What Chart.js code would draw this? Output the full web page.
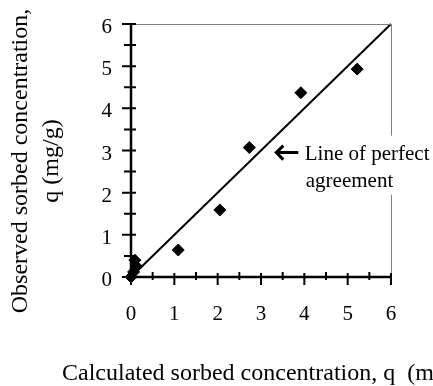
<!DOCTYPE html>
<html>
<head>
<meta charset="utf-8">
<script src="https://cdn.jsdelivr.net/npm/chart.js@4.4.0/dist/chart.umd.min.js"></script>
<style>
  html, body { margin: 0; padding: 0; background: #fff; }
  #wrap { width: 433px; height: 386px; }
</style>
</head>
<body>
<div id="wrap"><canvas id="c" width="433" height="386"></canvas></div>
<script>
// values
var calcQ = [0, 0.06, 0.13, 0.09, 1.09, 2.05, 2.73, 3.92, 5.22];
var obsQ  = [0, 0.12, 0.25, 0.40, 0.64, 1.59, 3.07, 4.37, 4.93];
var perfectX = [0, 6];
var perfectY = [0, 6];
var tickLabels = ["0", "1", "2", "3", "4", "5", "6"];

var xTitle = "Calculated sorbed concentration, q  (mg/g)";
var yTitle = ["Observed sorbed concentration,", "q (mg/g)"];
var noteLines = ["Line of perfect", "agreement"];

var SERIF = "'Liberation Serif', 'Times New Roman', serif";

var points = calcQ.map(function(x, i){ return {x: x, y: obsQ[i]}; });
var line = perfectX.map(function(x, i){ return {x: x, y: perfectY[i]}; });

var axesPlugin = {
	id: "oldaxes",
	afterDatasetsDraw: function(chart){
		var ctx = chart.ctx;
		var xs = chart.scales.x, ys = chart.scales.y;
		var a = chart.chartArea;
		ctx.save();

		// thin frame top and right
		ctx.strokeStyle = "#808080";
		ctx.lineWidth = 1;
		ctx.beginPath();
		ctx.moveTo(a.left, a.top + 0.5); ctx.lineTo(a.right, a.top + 0.5);
		ctx.moveTo(a.right + 0.5, a.top); ctx.lineTo(a.right + 0.5, a.bottom);
		ctx.stroke();

		// note box (white) over the frame
		var nx = xs.getPixelForValue(4.01), ny = ys.getPixelForValue(2.95);
		ctx.fillStyle = "#fff";
		ctx.fillRect(nx - 4, ny - 17, 140, 59);

		// thick axes
		ctx.strokeStyle = "#000";
		ctx.lineWidth = 2.5;
		ctx.beginPath();
		ctx.moveTo(a.left, a.top); ctx.lineTo(a.left, a.bottom);
		ctx.lineTo(a.right, a.bottom);
		ctx.stroke();

		// ticks crossing the axes
		ctx.lineWidth = 2;
		ctx.beginPath();
		for (var v = 0; v <= 6.001; v += 0.5) {
			var major = Math.abs(v - Math.round(v)) < 0.01;
			var px = xs.getPixelForValue(v);
			var py = ys.getPixelForValue(v);
			ctx.moveTo(px, a.bottom - (major ? 4 : 5)); ctx.lineTo(px, a.bottom + (major ? 8 : 3));
			ctx.moveTo(a.left - (major ? 9 : 7), py); ctx.lineTo(a.left + 5, py);
		}
		ctx.stroke();

		// tick labels
		ctx.fillStyle = "#000";
		ctx.font = "21px " + SERIF;
		ctx.textBaseline = "alphabetic";
		tickLabels.forEach(function(t){
			var v = parseFloat(t);
			ctx.textAlign = "center";
			ctx.fillText(t, xs.getPixelForValue(v), 320);
			ctx.textAlign = "right";
			ctx.fillText(t, 112, ys.getPixelForValue(v) + 9);
		});

		// axis titles
		ctx.font = "24px " + SERIF;
		ctx.textAlign = "left";
		ctx.fillText(xTitle, 62, 380);
		ctx.save();
		ctx.translate(0, 161);
		ctx.rotate(-Math.PI / 2);
		ctx.textAlign = "center";
		ctx.fillText(yTitle[0], 0, 27);
		ctx.fillText(yTitle[1], 0, 58);
		ctx.restore();

		// arrow + note text
		var ax = xs.getPixelForValue(3.33);
		ctx.lineWidth = 3;
		ctx.beginPath();
		ctx.moveTo(ax + 23, ny); ctx.lineTo(ax + 1, ny);
		ctx.moveTo(ax + 8, ny - 7); ctx.lineTo(ax + 1, ny); ctx.lineTo(ax + 8, ny + 7);
		ctx.stroke();
		ctx.font = "21px " + SERIF;
		ctx.textAlign = "left";
		ctx.fillText(noteLines[0], nx, 160);
		ctx.fillText(noteLines[1], nx + 1, 187);

		ctx.restore();
	}
};

new Chart(document.getElementById("c"), {
	type: "scatter",
	data: {
		datasets: [
			{
				label: "perfect",
				type: "line",
				data: line,
				borderColor: "#000",
				borderWidth: 2,
				pointRadius: 0,
				fill: false,
				clip: false
			},
			{
				label: "observed",
				data: points,
				pointStyle: "rectRot",
				pointRadius: 6,
				backgroundColor: "#000",
				borderColor: "#000",
				borderWidth: 1,
				clip: false
			}
		]
	},
	options: {
		responsive: false,
		animation: false,
		layout: { padding: { left: 131, right: 42, top: 24, bottom: 109 } },
		plugins: { legend: { display: false }, tooltip: { enabled: false } },
		scales: {
			x: { type: "linear", min: 0, max: 6, display: false },
			y: { type: "linear", min: 0, max: 6, display: false }
		}
	},
	plugins: [axesPlugin]
});
</script>
</body>
</html>
